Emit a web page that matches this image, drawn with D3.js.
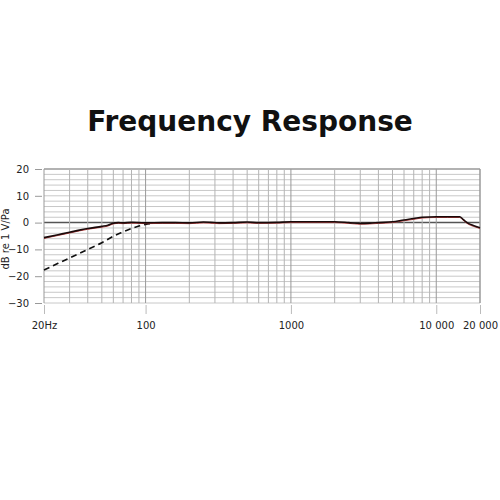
<!DOCTYPE html>
<html><head><meta charset="utf-8">
<script src="https://cdn.jsdelivr.net/npm/d3@7"></script>
<style>body{margin:0;background:#fff}svg{display:block}</style>
</head><body>
<svg id="c" width="500" height="500"></svg>
<script>
const title = "Frequency Response";
const yLabel = "dB re 1 V/Pa";
const xTicks = [20, 100, 1000, 10000, 20000];
const xTickLabels = ["20Hz", "100", "1000", "10 000", "20 000"];
const yTicks = [20, 10, 0, -10, -20, -30];
const solidFreq = [20, 25, 30, 35, 40, 50, 55, 60, 65, 70, 80, 90, 100, 130, 160, 200, 250, 280, 320, 400, 500, 600, 800, 1000, 1500, 2000, 2500, 3000, 3500, 4000, 5000, 6000, 7000, 8000, 10000, 12000, 14500, 15300, 16600, 18000, 20000];
const solidDb   = [-5.6, -4.5, -3.6, -2.8, -2.2, -1.4, -1.0, -0.2, 0, -0.1, 0.1, 0, -0.1, 0, 0, -0.1, 0.2, 0.1, -0.1, 0, 0.2, 0, 0.1, 0.3, 0.3, 0.3, 0, -0.3, -0.2, 0, 0.3, 1.0, 1.5, 2.0, 2.2, 2.2, 2.2, 1.2, -0.3, -1.1, -1.9];
const dashFreq = [20, 25, 30, 35, 40, 50, 60, 70, 80, 90, 100, 115, 130];
const dashDb   = [-17.7, -15.2, -13.2, -11.5, -10, -7.5, -5.1, -3.5, -2.2, -1.3, -0.7, -0.2, 0];

const svg = d3.select("#c");
const x = d3.scaleLog().domain([20, 20000]).range([44, 480]);
const y = d3.scaleLinear().domain([-30, 20]).range([303, 169]);

svg.append("text").attr("x", 250).attr("y", 131).attr("text-anchor", "middle")
  .attr("font-family", "DejaVu Sans").attr("font-weight", "bold").attr("font-size", 28)
  .attr("fill", "#111").text(title);

// grid
const g = svg.append("g");
const hLines = d3.range(-30, 21, 2);
g.selectAll("line.h").data(hLines).join("line")
  .attr("x1", x(20)).attr("x2", x(20000))
  .attr("y1", d => y(d)).attr("y2", d => y(d))
  .attr("stroke", d => d === 0 ? "#555" : (d === 20 ? "#999" : "#c8c8c8"))
  .attr("stroke-width", d => (d === 0 || d === 20) ? 1.5 : 1);
const vLines = [];
[10, 100, 1000, 10000].forEach(dec => { for (let k = 1; k < 10; k++) { const f = dec * k; if (f >= 20 && f <= 20000) vLines.push(f); } });
vLines.push(20000);
g.selectAll("line.v").data(vLines).join("line")
  .attr("x1", d => x(d)).attr("x2", d => x(d))
  .attr("y1", y(20)).attr("y2", y(-30))
  .attr("stroke", d => [20, 100, 1000, 10000, 20000].includes(d) ? "#999" : "#b4b4b4")
  .attr("stroke-width", 1);

// y axis
const yAxis = d3.axisLeft(y).tickValues(yTicks).tickSize(7).tickPadding(6);
const ya = svg.append("g").attr("transform", "translate(42,0)").call(yAxis);
ya.select(".domain").remove();
ya.selectAll("line").attr("stroke", "#999");
ya.selectAll("text").attr("font-family", "DejaVu Sans").attr("font-size", 10).attr("fill", "#222");

// x axis
const xAxis = d3.axisBottom(x).tickValues(xTicks).tickFormat((d, i) => xTickLabels[i]).tickSize(9).tickPadding(8);
const xa = svg.append("g").attr("transform", "translate(0,305)").call(xAxis);
xa.select(".domain").remove();
xa.selectAll("line").attr("stroke", "#bbb");
xa.selectAll("text").attr("font-family", "DejaVu Sans").attr("font-size", 10).attr("fill", "#222");

svg.append("text").attr("transform", "translate(9,239) rotate(-90)").attr("text-anchor", "middle")
  .attr("font-family", "DejaVu Sans").attr("font-size", 10).attr("fill", "#222").text(yLabel);

const line = d3.line().x(d => x(d[0])).y(d => y(d[1])).curve(d3.curveMonotoneX);
svg.append("path").datum(dashFreq.map((f, i) => [f, dashDb[i]]))
  .attr("d", line).attr("fill", "none").attr("stroke", "#111").attr("stroke-width", 1.6)
  .attr("stroke-dasharray", "6,4");
const solid = solidFreq.map((f, i) => [f, solidDb[i]]);
svg.append("path").datum(solid).attr("d", line).attr("fill", "none")
  .attr("stroke", "#c04040").attr("stroke-width", 1).attr("transform", "translate(0,0.8)");
svg.append("path").datum(solid).attr("d", line).attr("fill", "none")
  .attr("stroke", "#1a0a0a").attr("stroke-width", 1.6);
</script>
</body></html>
